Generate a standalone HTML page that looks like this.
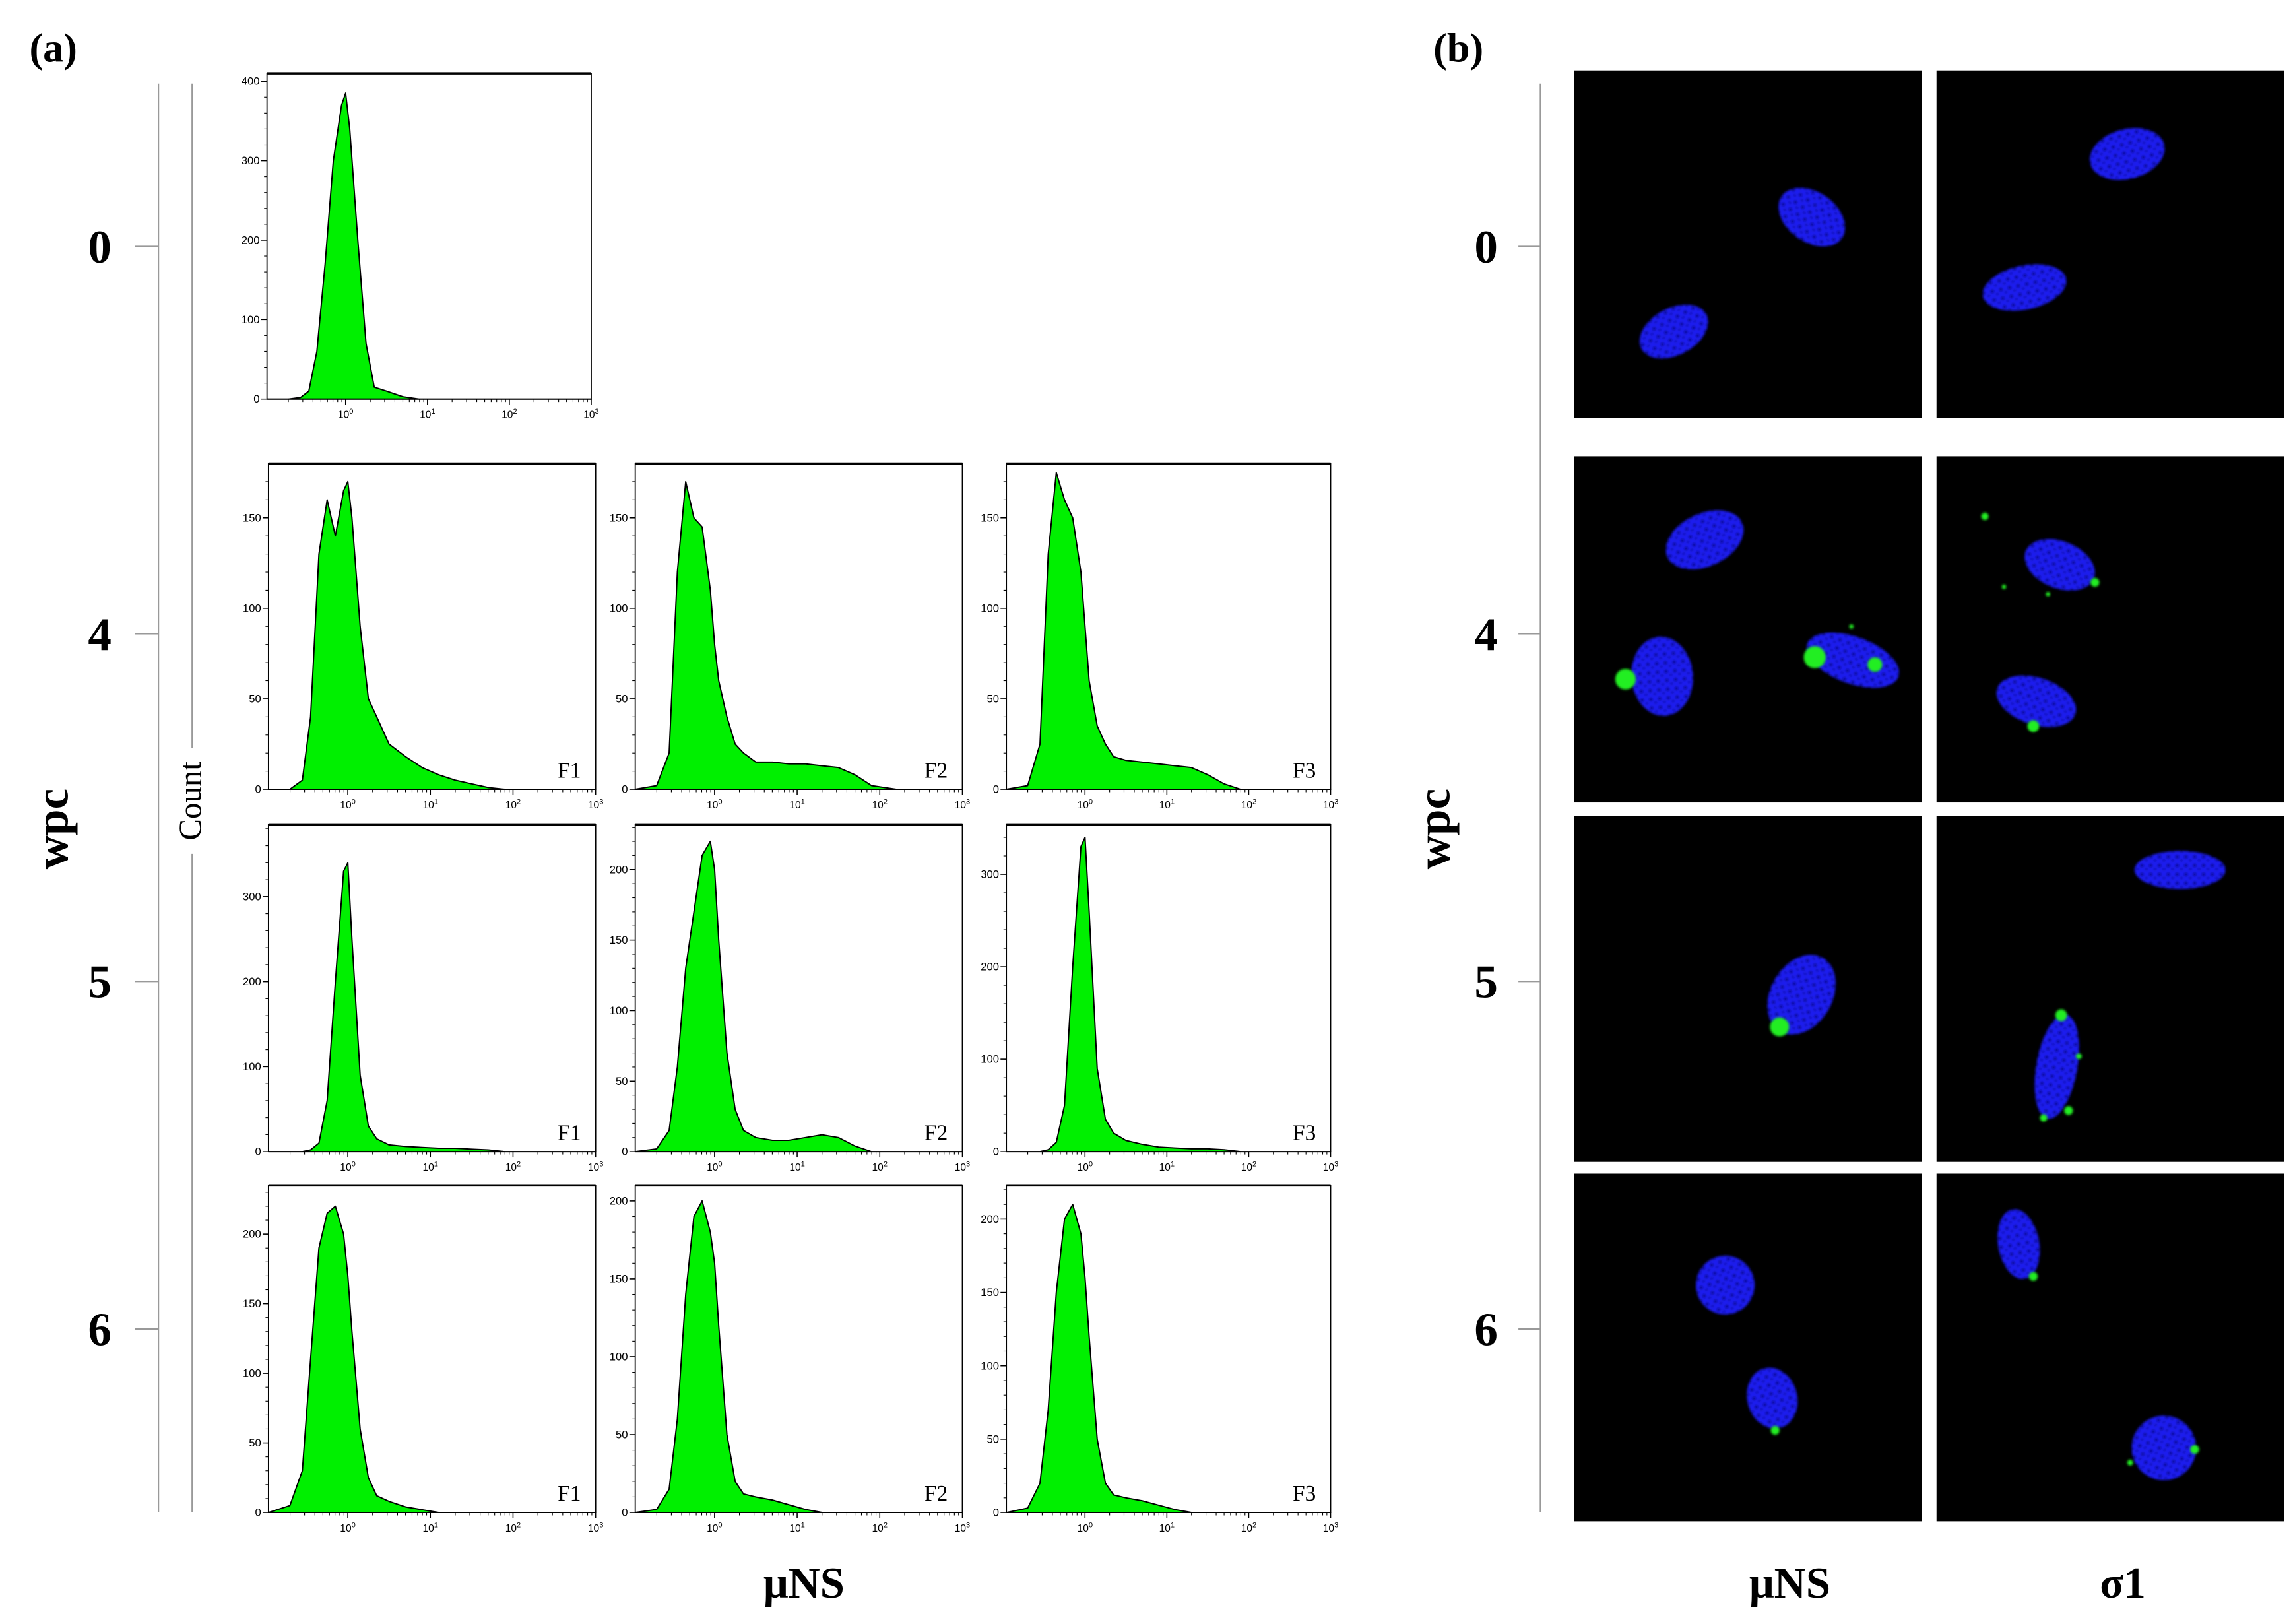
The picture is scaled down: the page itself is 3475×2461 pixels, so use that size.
<!DOCTYPE html>
<html><head><meta charset="utf-8"><style>
html,body{margin:0;padding:0;background:#fff;}
svg{display:block;}
</style></head><body>
<svg id="fig" width="3475" height="2461" viewBox="0 0 1563 1107" preserveAspectRatio="none" xmlns="http://www.w3.org/2000/svg">
<defs>
<filter id="soft" x="-30%" y="-30%" width="160%" height="160%"><feGaussianBlur stdDeviation="1.2"/></filter>
<filter id="glow" x="-50%" y="-50%" width="200%" height="200%"><feGaussianBlur stdDeviation="0.8"/></filter>
<pattern id="speck" width="6" height="6" patternUnits="userSpaceOnUse"><rect width="6" height="6" fill="#1c1cf0"/><circle cx="2" cy="2" r="1.3" fill="#0a0a90"/><circle cx="5" cy="4.5" r="0.9" fill="#10109f"/></pattern>
</defs>
<g id="static" font-family="Liberation Serif, serif" font-weight="bold" fill="#000">
  <text x="20" y="42" font-size="28">(a)</text>
  <text x="977" y="42" font-size="28">(b)</text>
  <text transform="translate(46,565) rotate(-90)" text-anchor="middle" font-size="32">wpc</text>
  <text transform="translate(988,565) rotate(-90)" text-anchor="middle" font-size="32">wpc</text>
  <text transform="translate(137,546) rotate(-90)" text-anchor="middle" font-size="22" font-weight="normal">Count</text>
  <text x="548" y="1089" text-anchor="middle" font-size="30">μNS</text>
  <text x="1220" y="1089" text-anchor="middle" font-size="30">μNS</text>
  <text x="1447" y="1089" text-anchor="middle" font-size="30">σ1</text>
</g>
<g id="wpcaxes"></g>
<g id="hists"></g>
<g id="micro"></g>
</svg>
<script>
const NS='http://www.w3.org/2000/svg';
const svg=document.getElementById('fig');
function mk(tag,attrs,parent){const e=document.createElementNS(NS,tag);for(const k in attrs)e.setAttribute(k,attrs[k]);parent.appendChild(e);return e;}

// ---- data ----
const wpcLabels=['0','4','5','6'];
const logX=[-0.96,-0.7,-0.55,-0.45,-0.35,-0.25,-0.15,-0.05,0,0.05,0.15,0.25,0.35,0.5,0.7,0.9,1.1,1.3,1.5,1.7,1.9,2.2,3.0];
const countsW0=[0,0,2,10,60,170,300,370,385,340,200,70,15,10,3,0,0,0,0,0,0,0,0];
const countsW4F1=[0,0,5,40,130,160,140,165,170,150,90,50,40,25,18,12,8,5,3,1,0,0,0];
const countsW4F2=[0,2,20,120,170,150,145,110,80,60,40,25,20,15,15,14,14,13,12,8,2,0,0];
const countsW4F3=[0,2,25,130,175,160,150,120,90,60,35,25,18,16,15,14,13,12,8,3,0,0,0];
const countsW5F1=[0,0,0,2,10,60,200,330,340,250,90,30,15,8,6,5,4,4,3,2,0,0,0];
const countsW5F2=[0,2,15,60,130,170,210,220,200,150,70,30,15,10,8,8,10,12,10,4,0,0,0];
const countsW5F3=[0,0,0,2,10,50,200,330,340,260,90,35,20,12,8,5,4,3,3,2,0,0,0];
const countsW6F1=[0,5,30,110,190,215,220,200,170,130,60,25,12,8,4,2,0,0,0,0,0,0,0];
const countsW6F2=[0,2,15,60,140,190,200,180,160,120,50,20,12,10,8,5,2,0,0,0,0,0,0];
const countsW6F3=[0,3,20,70,150,200,210,190,160,120,50,20,12,10,8,5,2,0,0,0,0,0,0];
const yMaxes=[410,180,180,180,385,232,354,235,210,223];
const yTicks0=[0,100,200,300,400];
const yTicks4=[0,50,100,150];
const yTicks5a=[0,100,200,300];
const yTicks5b=[0,50,100,150,200];
const yTicks6=[0,50,100,150,200];
const xTickExp=[0,1,2,3];
const fLabels=['','F1','F2','F3','F1','F2','F3','F1','F2','F3'];

// ---- layout ----
const rowsY=[[50,272],[316,538],[562,785],[808,1031]];
const colsX=[[183,406],[433,656],[686,907]];
const panels=[
 {x0:182,x1:403,row:0,c:countsW0,t:yTicks0},
 {col:0,row:1,c:countsW4F1,t:yTicks4},{col:1,row:1,c:countsW4F2,t:yTicks4},{col:2,row:1,c:countsW4F3,t:yTicks4},
 {col:0,row:2,c:countsW5F1,t:yTicks5a},{col:1,row:2,c:countsW5F2,t:yTicks5b},{col:2,row:2,c:countsW5F3,t:yTicks5a},
 {col:0,row:3,c:countsW6F1,t:yTicks6},{col:1,row:3,c:countsW6F2,t:yTicks6},{col:2,row:3,c:countsW6F3,t:yTicks6}
];
const hg=document.getElementById('hists');
panels.forEach((p,i)=>{
  const x0=p.x0!==undefined?p.x0:colsX[p.col][0], x1=p.x1!==undefined?p.x1:colsX[p.col][1];
  const [y0,y1]=rowsY[p.row];
  const lmin=-0.96,lmax=3.0;
  const sx=l=>x0+(l-lmin)/(lmax-lmin)*(x1-x0);
  const sy=v=>y1-v/yMaxes[i]*(y1-y0);
  const g=mk('g',{},hg);
  
  
  let d='M'+sx(logX[0])+','+sy(0);
  logX.forEach((l,k)=>{d+=' L'+sx(l).toFixed(1)+','+sy(p.c[k]).toFixed(1);});
  d+=' L'+sx(logX[logX.length-1])+','+sy(0)+' Z';
  const area=mk('path',{d:d,fill:'#00f000',stroke:'#000','stroke-width':0.9,'stroke-linejoin':'round'},g);
  
  
  const fr=mk('rect',{x:x0,y:y0,width:x1-x0,height:y1-y0,fill:'none',stroke:'#000','stroke-width':0.8},g);
  
  
  mk('line',{x1:x0,x2:x1,y1:y0,y2:y0,stroke:'#000','stroke-width':1.6},g);
  p.t.forEach(v=>{
    const y=sy(v);
    mk('line',{x1:x0-4,x2:x0,y1:y,y2:y,stroke:'#000','stroke-width':0.7},g);
    const t=mk('text',{x:x0-5,y:y+2.5,'font-size':7.5,'text-anchor':'end','font-family':'Liberation Sans, sans-serif'},g);
    t.textContent=v;
    
    
  });
  const step=p.t[1]-p.t[0];
  for(let v=step/5;v<yMaxes[i];v+=step/5){const y=sy(v);mk('line',{x1:x0-2,x2:x0,y1:y,y2:y,stroke:'#000','stroke-width':0.5},g);}
  xTickExp.forEach(e=>{
    const x=sx(e);
    mk('line',{x1:x,x2:x,y1:y1,y2:y1+4,stroke:'#000','stroke-width':0.7},g);
    const t=mk('text',{x:x,y:y1+13,'font-size':7,'text-anchor':'middle','font-family':'Liberation Sans, sans-serif'},g);
    t.textContent='10'; const s=mk('tspan',{dy:-3,'font-size':5},t); s.textContent=e;
    
    
  });
  for(let e=-1;e<3;e++)for(let m=2;m<10;m++){const l=e+Math.log10(m);if(l<lmin)continue;const x=sx(l);mk('line',{x1:x,x2:x,y1:y1,y2:y1+2,stroke:'#000','stroke-width':0.5},g);}
  if(fLabels[i]){const t=mk('text',{x:x1-10,y:y1-8,'font-size':15,'text-anchor':'end','font-family':'Liberation Serif, serif'},g);t.textContent=fLabels[i];
    
    }
});

const wa=document.getElementById('wpcaxes');
const wpcY=[168,432,669,906];
[[108,92,68],[1050,1035,1013]].forEach(([lx,tx,labx])=>{
  const ln=mk('line',{x1:lx,x2:lx,y1:57,y2:1031,stroke:'#999','stroke-width':1},wa);
  
  
  wpcLabels.forEach((lab,k)=>{
    mk('line',{x1:tx,x2:lx,y1:wpcY[k],y2:wpcY[k],stroke:'#999','stroke-width':1},wa);
    const t=mk('text',{x:labx,y:wpcY[k]+11,'font-size':32,'font-weight':'bold','text-anchor':'middle','font-family':'Liberation Serif, serif'},wa);
    t.textContent=lab;
    
    
  });
});
mk('line',{x1:131,x2:131,y1:57,y2:510,stroke:'#999','stroke-width':1},wa);
mk('line',{x1:131,x2:131,y1:582,y2:1031,stroke:'#999','stroke-width':1},wa);

const mg=document.getElementById('micro');
const imgCols=[[1073,1310],[1320,1557]];
const imgRows=[[48,285],[311,547],[556,792],[800,1037]];
const nuclei=[
 [[[1235,148,25,17,35],[1141,226,25,16,-28]],[[1450,105,26,17,-15],[1380,196,29,15,-12]]],
 [[[1162,368,28,18,-25],[1133,461,21,27,-5],[1263,450,33,16,20]],[[1404,385,25,16,22],[1388,478,28,16,18]]],
 [[[1228,678,21,29,30]],[[1486,593,31,13,0],[1402,727,14,36,10]]],
 [[[1176,876,20,20,-20],[1208,953,17,21,-15]],[[1376,848,14,24,-10],[1475,987,22,22,-20]]]
];
const dots=[
 [[],[]],
 [[[1108,463,7],[1237,448,7.5],[1278,453,5],[1262,427,1.5]],[[1428,397,3],[1386,495,4],[1353,352,2.5],[1366,400,1.5],[1396,405,1.5]]],
 [[[1213,700,6.5]],[[1405,692,4],[1410,757,3],[1393,762,2.5],[1417,720,2]]],
 [[[1210,975,3]],[[1386,870,3],[1452,997,2],[1496,988,3]]]
];
imgRows.forEach((ry,r)=>imgCols.forEach((cx,c)=>{
  const g=mk('g',{},mg);
  
  
  mk('rect',{x:cx[0],y:ry[0],width:cx[1]-cx[0],height:ry[1]-ry[0],fill:'#000'},g);
  nuclei[r][c].forEach(n=>{
    const e=mk('ellipse',{cx:n[0],cy:n[1],rx:n[2],ry:n[3],transform:`rotate(${n[4]} ${n[0]} ${n[1]})`,fill:'url(#speck)',filter:'url(#glow)'},g);
    
    
  });
  dots[r][c].forEach(d=>{
    const e=mk('circle',{cx:d[0],cy:d[1],r:d[2],fill:'#22ee22',filter:'url(#glow)'},g);
    
    
  });
}));
</script>
</body></html>
